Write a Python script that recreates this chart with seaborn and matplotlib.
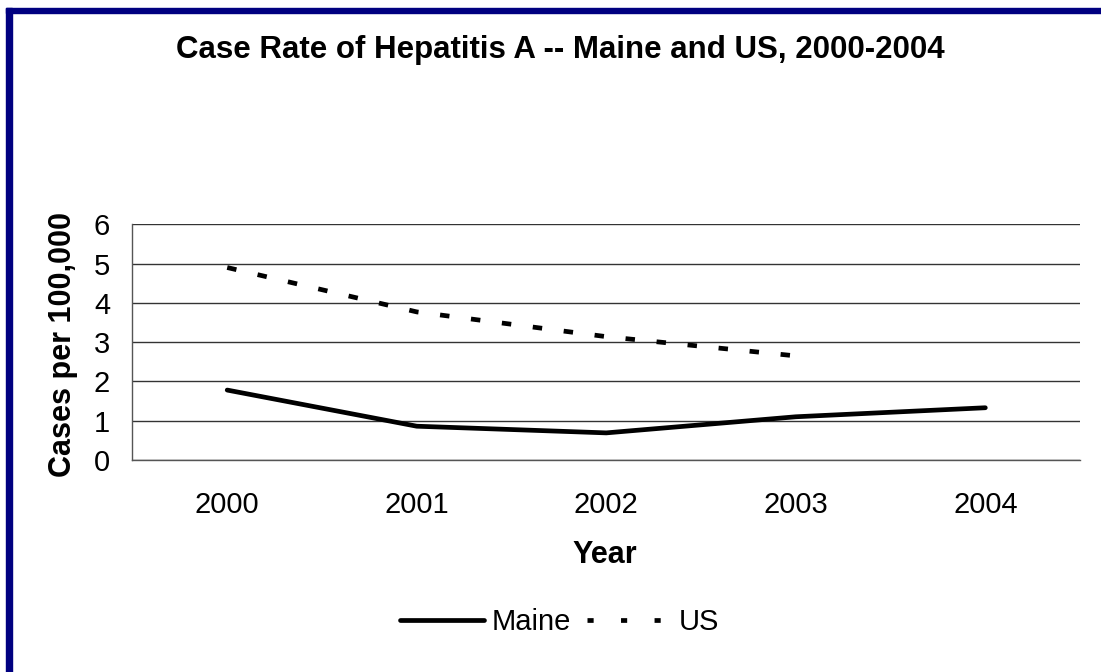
import matplotlib
matplotlib.use("Agg")
import matplotlib.pyplot as plt
import seaborn as sns
import pandas as pd
from matplotlib.lines import Line2D
from matplotlib.patches import Rectangle

years = ["2000", "2001", "2002", "2003", "2004"]
maine = [1.78, 0.86, 0.69, 1.10, 1.33]
us = [4.90, 3.77, 3.14, 2.65, None]

sns.set_theme(style="white")
plt.rcParams['font.family'] = ['Liberation Sans', 'DejaVu Sans']

rows = []
for i, y in enumerate(years):
    rows.append({"pos": i, "Year": y, "rate": maine[i], "series": "Maine"})
    if us[i] is not None:
        rows.append({"pos": i, "Year": y, "rate": us[i], "series": "US"})
df = pd.DataFrame(rows)

LW = 3.4
fig = plt.figure(figsize=(11.01, 6.72), dpi=100)
ax = fig.add_axes([0.1203, 0.3155, 0.981 - 0.1203, 0.6662 - 0.3155])

sns.lineplot(data=df, x="pos", y="rate", style="series", hue="series",
             palette={"Maine": "black", "US": "black"},
             dashes={"Maine": "", "US": (2.0, 4.6)},
             linewidth=LW, legend=False, ax=ax)

ax.set_xlim(-0.5, len(years) - 0.5)
ax.set_ylim(0, 6)
ax.set_yticks(range(0, 7))
ax.set_xticks(range(len(years)))
ax.set_xticklabels(years)
ax.set_xticks([i - 0.5 for i in range(len(years) + 1)], minor=True)
ax.tick_params(axis="x", which="major", length=0, labelsize=21, pad=22, colors="black")
ax.tick_params(axis="x", which="minor", length=7, width=1, color="#444444", direction="out")
ax.tick_params(axis="y", length=7, width=1, color="#444444", direction="out", labelsize=21,
               pad=9, labelcolor="black")
ax.grid(axis="y", color="#333333", linewidth=1)
ax.grid(axis="x", visible=False)
for s in ["top", "right"]:
    ax.spines[s].set_visible(False)
ax.spines["left"].set_color("#555555")
ax.spines["bottom"].set_color("#555555")
ax.spines["left"].set_linewidth(1)
ax.spines["bottom"].set_linewidth(1)

ax.set_xlabel("")
ax.set_ylabel("")
fig.text(0.057, 0.487, "Cases per 100,000", rotation=90, ha="center", va="center",
         fontsize=22, fontweight="bold", color="black")
fig.text(0.549, 0.174, "Year", ha="center", va="center", fontsize=22, fontweight="bold",
         color="black")
fig.text(0.509, 0.926, "Case Rate of Hepatitis A -- Maine and US, 2000-2004",
         ha="center", va="center", fontsize=22.5, fontweight="bold", color="black")

handles = [Line2D([], [], color="black", lw=LW, ls="-"),
           Line2D([], [], color="black", lw=LW, ls=(0, (1.3, 5.8)))]
fig.legend(handles, ["Maine", "US"], loc="center", bbox_to_anchor=(0.508, 0.074),
           ncol=2, frameon=False, fontsize=21, handlelength=2.9, columnspacing=0.55,
           handletextpad=0.25, labelcolor="black")

# navy frame on top and left
fig.patches.append(Rectangle((6 / 1101, 0), 5.7 / 1101, 1 - 8 / 672, transform=fig.transFigure,
                             color="#000080", zorder=10))
fig.patches.append(Rectangle((6 / 1101, 1 - 13.3 / 672), 1, 5.3 / 672, transform=fig.transFigure,
                             color="#000080", zorder=10))

fig.savefig("out.png", dpi=100, facecolor="white")
